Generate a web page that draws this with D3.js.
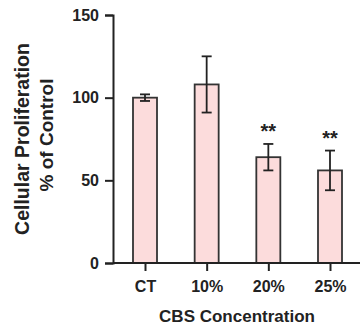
<!DOCTYPE html>
<html><head><meta charset="utf-8">
<script src="https://cdn.jsdelivr.net/npm/d3@7"></script>
<style>body{margin:0;background:#fff}svg{display:block}text{font-family:"Liberation Sans",Arial,sans-serif;font-weight:bold;fill:#222}</style>
</head><body>
<script>
const categories = ["CT","10%","20%","25%"];
const means = [100, 108, 64, 56];
const errors = [2, 17, 8, 12];
const marks = ["", "", "**", "**"];
const yTicks = [0, 50, 100, 150];

const W=360,H=327;
const svg=d3.select("body").append("svg").attr("width",W).attr("height",H);
const y=d3.scaleLinear().domain([0,150]).range([263,15]);
const x=d3.scalePoint().domain(categories).range([145,330]);
const bw=24;
const ink="#222";

const g=svg.append("g");
g.selectAll("rect.bar").data(categories).join("rect")
 .attr("x",d=>x(d)-bw/2).attr("y",(d,i)=>y(means[i]))
 .attr("width",bw).attr("height",(d,i)=>y(0)-y(means[i]))
 .attr("fill","#fcdcdc").attr("stroke","#333").attr("stroke-width",1.8);

categories.forEach((c,i)=>{
  const cx=x(c), top=y(means[i]+errors[i]), bot=y(means[i]-errors[i]);
  g.append("line").attr("x1",cx).attr("x2",cx).attr("y1",top).attr("y2",bot).attr("stroke",ink).attr("stroke-width",1.8);
  [top,bot].forEach(v=>g.append("line").attr("x1",cx-5).attr("x2",cx+5).attr("y1",v).attr("y2",v).attr("stroke",ink).attr("stroke-width",1.8));
  if(marks[i]) g.append("text").attr("x",cx).attr("y",top-6).attr("text-anchor","middle").style("font-size","20px").attr("fill","#333").text(marks[i]);
});

const ya=svg.append("g").attr("transform","translate(113,0)")
 .call(d3.axisLeft(y).tickValues(yTicks).tickSize(8).tickPadding(6));
ya.select(".domain").attr("stroke",ink).attr("stroke-width",2);
ya.selectAll(".tick line").attr("stroke",ink).attr("stroke-width",2);
ya.selectAll(".tick text").style("font-size","16px").style("font-family",'"Liberation Sans",Arial,sans-serif').style("font-weight","bold").attr("fill",ink);

const xa=svg.append("g").attr("transform","translate(0,263)")
 .call(d3.axisBottom(x).tickSize(8).tickPadding(10));
xa.select(".domain").attr("d","M113,0H360").attr("stroke",ink).attr("stroke-width",2);
xa.selectAll(".tick line").attr("stroke",ink).attr("stroke-width",2);
xa.selectAll(".tick text").style("font-size","16px").style("font-family",'"Liberation Sans",Arial,sans-serif').style("font-weight","bold").attr("fill",ink);

svg.append("text").attr("x",237).attr("y",322).attr("text-anchor","middle").style("font-size","17px").text("CBS Concentration");
svg.append("text").attr("transform","translate(29,139) rotate(-90)").attr("text-anchor","middle").style("font-size","19.5px").text("Cellular Proliferation");
svg.append("text").attr("transform","translate(53,135) rotate(-90)").attr("text-anchor","middle").style("font-size","19px").text("% of Control");
</script>
</body></html>
